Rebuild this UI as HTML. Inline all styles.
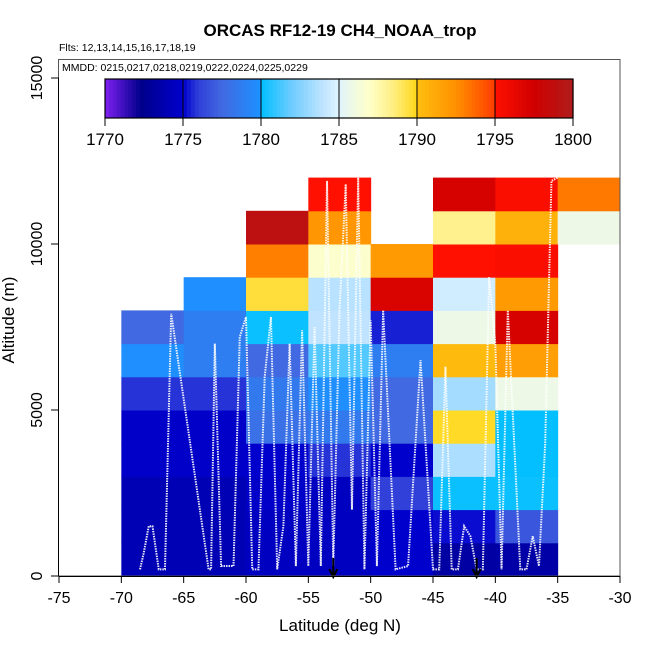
<!DOCTYPE html>
<html><head><meta charset="utf-8"><style>
body{margin:0;background:#fff;}
svg{display:block;font-family:"Liberation Sans",Arial,sans-serif;}
</style></head><body>
<svg id="chart" width="650" height="650" viewBox="0 0 650 650">
<rect x="0" y="0" width="650" height="650" fill="#fff"/>
<text x="340" y="36" text-anchor="middle" font-size="17" font-weight="bold">ORCAS RF12-19 CH4_NOAA_trop</text>
<text x="59" y="51" font-size="10.5">Flts: 12,13,14,15,16,17,18,19</text>
<g id="cells"></g>
<g id="tracks"></g>
<g id="arrows"></g>
<rect x="58.5" y="59.5" width="561.5" height="516.5" fill="none" stroke="#555" stroke-width="1"/>
<text x="62" y="71" font-size="10.5">MMDD: 0215,0217,0218,0219,0222,0224,0225,0229</text>
<g id="colorbar"></g>
<g id="xaxis"></g>
<g id="yaxis"></g>
<text x="340" y="631" text-anchor="middle" font-size="17">Latitude (deg N)</text>
<text transform="translate(14,320) rotate(-90)" text-anchor="middle" font-size="17">Altitude (m)</text>
</svg>
<script>
const latEdges=[-70,-65,-60,-55,-50,-45,-40,-35,-30];
const altStep=1000;
// CH4 values per latitude column, rows from 0 m upward (null = no data)
const col1=[1774,1774,1774,1774.8,1774.8,1775.8,1779.8,1777.5];
const col2=[1774,1774,1774,1774.8,1774.8,1775.8,1778.8,1778.8,1779.8];
const col3=[1774.5,1774.5,1774.8,1775,1778,1778.5,1777.5,1780.2,1789.5,1793,1799];
const col4=[1774.5,1774.5,1774.5,1775.8,1778.5,1779.8,1781.5,1784,1783.8,1786.8,1792.2,1795];
const col5=[1775,1775,1776,1775,1777.5,1777.5,1778.8,1775.5,1797,1792];
const col6=[1773.3,1775.2,1780.2,1783.5,1789.8,1783.3,1790.3,1785.8,1784.5,1795,1788.2,1797.2];
const col7=[1773.4,1776.8,1780.2,1780.05,1780.05,1785.8,1791.7,1797.2,1792,1795.3,1790.8,1795.3];
const col8=[null,null,null,null,null,null,null,null,null,null,1785.8,1793.2];
const columns=[col1,col2,col3,col4,col5,col6,col7,col8];
const xTicks=[-75,-70,-65,-60,-55,-50,-45,-40,-35,-30];
const yTicks=[0,5000,10000,15000];
const cbTicks=[1770,1775,1780,1785,1790,1795,1800];
// flight track samples (lat, alt)
const trackLat=[-68.5,-68.2,-67.8,-67.5,-67,-66.5,-66,-63,-62.8,-62.5,-62,-61,-60.5,-60,-59.5,-59,-58.5,-58,-57.5,-57,-56.5,-56,-55.5,-55,-54.5,-54,-53.5,-53,-52.5,-52,-51.5,-51,-50.5,-50,-49.5,-49,-48,-47,-46,-45,-44.5,-44,-43.5,-43,-42.5,-42,-41.5,-41,-40.5,-40,-39.5,-39,-38,-37.5,-37,-36.5,-36,-35.5,-35];
const trackAlt=[200,700,1500,1500,200,200,7900,200,200,7000,300,300,7200,7800,200,200,6000,7800,200,1500,7000,300,7400,300,7500,300,11900,300,8000,11800,2000,12000,200,7700,300,8000,200,300,6500,200,200,6300,200,200,1500,1200,200,200,9000,7000,200,8000,200,200,1200,300,4000,11900,12000];
const cmapV=[1770,1772.3,1775,1776,1777.5,1779.9,1780,1782,1784,1785,1786,1787,1788.5,1789.9,1790,1792.5,1794.9,1795,1797.5,1800];
const cmapC=["#8020F0","#00008B","#0000CD","#3040D8","#4169E1","#1E90FF","#00BFFF","#70CCFF","#C0E4FF","#E0F4FF","#F0FAE0","#FFFFC8","#FFEE80","#FFD820","#FFC010","#FF9000","#FF4000","#FF1000","#D00000","#B01C1C"];

const NS="http://www.w3.org/2000/svg";
const X0=59,X1=620,Y0=576,PXALT=166/5000;
function xs(lat){return X0+(lat+75)*(X1-X0)/45;}
function ys(alt){return Y0-alt*PXALT;}
function hex(c){return [1,3,5].map(i=>parseInt(c.substr(i,2),16));}
function color(v){
  if(v<=cmapV[0])return cmapC[0];
  for(let i=1;i<cmapV.length;i++){
    if(v<=cmapV[i]){const t=(v-cmapV[i-1])/(cmapV[i]-cmapV[i-1]);const a=hex(cmapC[i-1]),b=hex(cmapC[i]);
      return "rgb("+a.map((q,k)=>Math.round(q+(b[k]-q)*t)).join(",")+")";}
  }
  return cmapC[cmapC.length-1];
}
function el(tag,attrs,parent){const e=document.createElementNS(NS,tag);for(const k in attrs)e.setAttribute(k,attrs[k]);parent.appendChild(e);return e;}

const cells=document.getElementById('cells');
columns.forEach((col,ci)=>{
  col.forEach((v,ri)=>{
    if(v===null)return;
    const x=xs(latEdges[ci]),x2=xs(latEdges[ci+1]),yTop=ys((ri+1)*altStep),yB=ys(ri*altStep);
    const r=el('rect',{x:x,y:yTop,width:x2-x+0.5,height:yB-yTop+0.5,fill:color(v)},cells);
    
    
  });
});

const tracks=document.getElementById('tracks');
let pts=trackLat.map((l,i)=>xs(l)+","+ys(trackAlt[i])).join(" ");
const pl=el('polyline',{points:pts,fill:'none',stroke:'#fff','stroke-width':2,'stroke-dasharray':'1.5 1','stroke-opacity':0.9},tracks);



const arrows=document.getElementById('arrows');
[-53,-41.5].forEach(l=>{
  const g=el('g',{},arrows);
  
  
  el('line',{x1:xs(l),x2:xs(l),y1:558,y2:576,stroke:'#000','stroke-width':2},g);
  el('path',{d:`M${xs(l)-4},${569} L${xs(l)},${577} L${xs(l)+4},${569}`,fill:'none',stroke:'#000','stroke-width':2},g);
});

const xa=document.getElementById('xaxis');
el('line',{x1:X0,x2:X1,y1:576.5,y2:576.5,stroke:'#000'},xa);
xTicks.forEach(t=>{
  el('line',{x1:xs(t),x2:xs(t),y1:576,y2:583,stroke:'#000'},xa);
  const tx=el('text',{x:xs(t),y:603,'text-anchor':'middle','font-size':16},xa);
  tx.textContent=t;
  
  
});
const ya=document.getElementById('yaxis');
el('line',{x1:58.5,x2:58.5,y1:ys(0),y2:ys(15000),stroke:'#000'},ya);
yTicks.forEach(t=>{
  el('line',{x1:51,x2:59,y1:ys(t),y2:ys(t),stroke:'#000'},ya);
  const tx=el('text',{transform:`translate(42,${ys(t)}) rotate(-90)`,'text-anchor':'middle','font-size':16},ya);
  tx.textContent=t;
  
  
});

const cb=document.getElementById('colorbar');
const CB0=105,CB1=573,CBT=79,CBB=118;
function cx(v){return CB0+(v-1770)*(CB1-CB0)/30;}
for(let v=1770;v<1800;v+=0.25){
  el('rect',{x:cx(v),y:CBT,width:(CB1-CB0)/120+0.6,height:CBB-CBT,fill:color(v+0.125)},cb);
}
el('rect',{x:CB0,y:CBT,width:CB1-CB0,height:CBB-CBT,fill:'none',stroke:'#000','stroke-width':1.2},cb);
cbTicks.forEach(t=>{
  el('line',{x1:cx(t),x2:cx(t),y1:CBT,y2:126,stroke:'#000','stroke-width':1},cb);
  const tx=el('text',{x:cx(t),y:145,'text-anchor':'middle','font-size':17},cb);
  tx.textContent=t;
  
  
});
</script>
</body></html>
